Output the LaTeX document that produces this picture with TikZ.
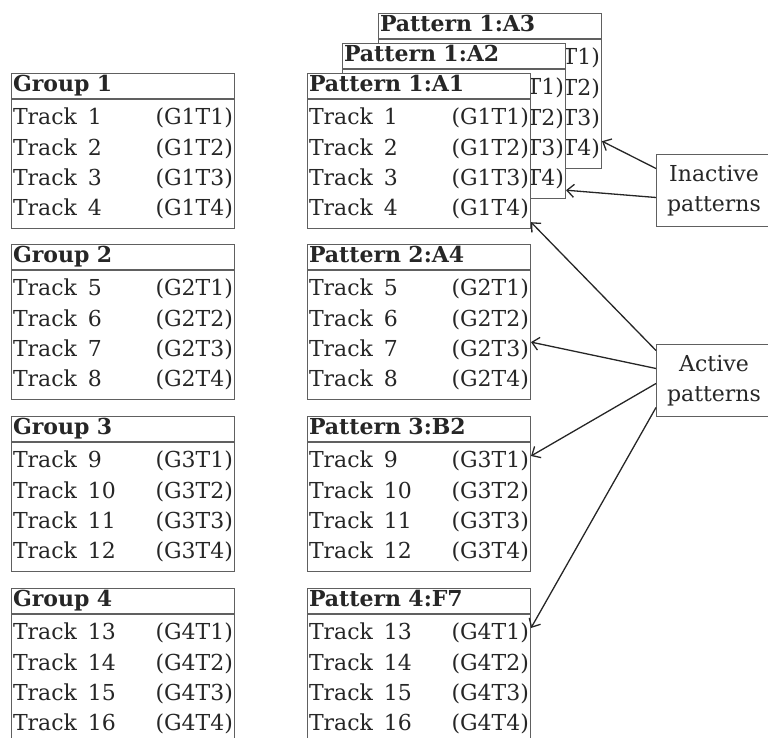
\documentclass[tikz,border=0pt]{standalone}
\usepackage{fontspec}
\setmainfont{DejaVu Serif}
\usetikzlibrary{positioning, arrows.meta}

\newcommand{\tracktab}[5]{%
  \begin{tabular*}{220pt}{@{}l@{\hspace{11pt}}l@{\extracolsep{\fill}}r@{}}
    Track & #1 & (G#5T1)\\
    Track & #2 & (G#5T2)\\
    Track & #3 & (G#5T3)\\
    Track & #4 & (G#5T4)
  \end{tabular*}}

\begin{document}
\begin{tikzpicture}[x=1pt, y=-1pt, >={Straight Barb[length=7pt, width=13pt]}]
	\tikzstyle{every node} = [font=\fontsize{22}{30.3}\selectfont, text=black!85]
	\tikzstyle{head} = [draw=gray!75!black, line width=1pt, fill=white, text width=220pt, inner xsep=1.5pt, inner ysep=2pt, text height=16pt, text depth=5pt, align=left, font=\fontsize{22}{30.3}\selectfont\bfseries, anchor=north west]
	\tikzstyle{body} = [draw=gray!75!black, line width=1pt, fill=white, inner xsep=1.5pt, inner ysep=4pt, below=0pt of #1]
	\tikzstyle{label} = [draw=gray!75!black, line width=1pt, fill=white, minimum width=115pt, minimum height=72pt, align=center, anchor=north west]
	\tikzstyle{pointer} = [->, line width=1.3pt, black!85]
	\useasboundingbox (0,0) rectangle (768,738);
	% groups
	\node[head] (g1) at (11,73) {Group 1};
	\node[body=g1] (g1b) {\tracktab{1}{2}{3}{4}{1}};
	\node[head] (g2) at (11,244) {Group 2};
	\node[body=g2] (g2b) {\tracktab{5}{6}{7}{8}{2}};
	\node[head] (g3) at (11,416) {Group 3};
	\node[body=g3] (g3b) {\tracktab{9}{10}{11}{12}{3}};
	\node[head] (g4) at (11,588) {Group 4};
	\node[body=g4] (g4b) {\tracktab{13}{14}{15}{16}{4}};
	% patterns, the back ones first
	\node[head] (a3) at (378,13) {Pattern 1:A3};
	\node[body=a3] (a3b) {\tracktab{1}{2}{3}{4}{1}};
	\node[head] (a2) at (342,43) {Pattern 1:A2};
	\node[body=a2] (a2b) {\tracktab{1}{2}{3}{4}{1}};
	\node[head] (p1) at (307,73) {Pattern 1:A1};
	\node[body=p1] (p1b) {\tracktab{1}{2}{3}{4}{1}};
	\node[head] (p2) at (307,244) {Pattern 2:A4};
	\node[body=p2] (p2b) {\tracktab{5}{6}{7}{8}{2}};
	\node[head] (p3) at (307,416) {Pattern 3:B2};
	\node[body=p3] (p3b) {\tracktab{9}{10}{11}{12}{3}};
	\node[head] (p4) at (307,588) {Pattern 4:F7};
	\node[body=p4] (p4b) {\tracktab{13}{14}{15}{16}{4}};
	% notes
	\node[label] (inact) at (656,154) {Inactive\\patterns};
	\node[label] (act) at (656,344) {Active\\patterns};
	\draw [pointer] ([yshift=22pt]inact.west)--([yshift=28pt]a3b.south east);
	\draw [pointer] ([yshift=-7pt]inact.west)--([yshift=9pt]a2b.south east);
	\draw [pointer] ([yshift=30pt]act.west)--([yshift=7pt]p1b.south east);
	\draw [pointer] ([yshift=12pt]act.west)--([yshift=-7pt]p2b.east);
	\draw [pointer] ([yshift=-3pt]act.west)--([yshift=-14pt]p3b.north east);
	\draw [pointer] ([yshift=-27pt]act.west)--([yshift=-14pt]p4b.north east);
\end{tikzpicture}
\end{document}
